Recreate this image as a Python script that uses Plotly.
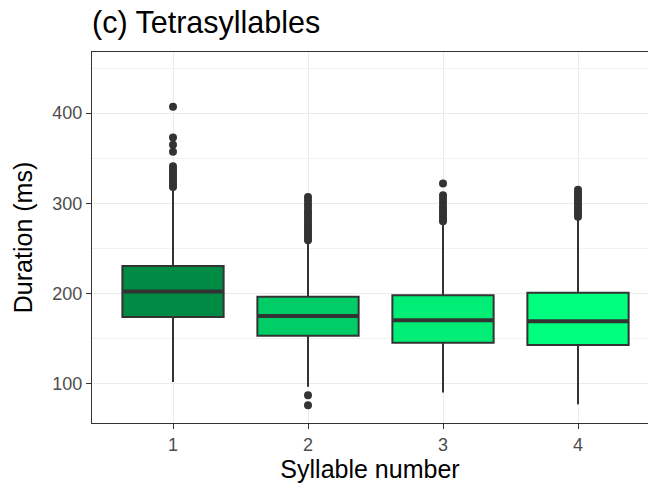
import plotly.graph_objects as go

# ---- data ----
syllables = [1, 2, 3, 4]
tick_labels = ["1", "2", "3", "4"]
q1 = [173.7, 152.9, 145.1, 142.6]
medians = [202.2, 174.8, 170.3, 169.2]
q3 = [230.3, 196.3, 198.0, 200.7]
lower_whisker = [101.8, 96.3, 90.0, 77.0]
upper_whisker = [315.0, 256.0, 276.0, 286.0]
outliers_1 = [407, 373, 365, 357, 341, 338, 335, 332, 329, 326, 323, 320, 318]
outliers_2 = [307, 303, 299, 295, 291, 288, 285, 282, 279, 276, 273, 270, 267, 264, 261, 259, 87, 76]
outliers_3 = [322, 309, 305, 301, 297, 294, 291, 288, 285, 282, 280]
outliers_4 = [315, 312, 309, 306, 303, 300, 297, 294, 291, 288, 285]
outliers = [outliers_1, outliers_2, outliers_3, outliers_4]
fill_colors = ["#008B45", "#00CD66", "#00EE76", "#00FF7F"]

box_width = 0.75
line_col = "#333333"
font_family = "Liberation Sans, Arial, sans-serif"

fig = go.Figure()
for i, s in enumerate(syllables):
    fig.add_trace(go.Box(
        x=[s], q1=[q1[i]], median=[medians[i]], q3=[q3[i]],
        lowerfence=[lower_whisker[i]], upperfence=[upper_whisker[i]],
        width=box_width, fillcolor=fill_colors[i],
        line=dict(color=line_col, width=2), whiskerwidth=0,
        boxpoints=False, showlegend=False, hoverinfo="skip"))
    # thicker median bar, as ggplot draws it
    fig.add_trace(go.Scatter(
        x=[s - box_width / 2, s + box_width / 2], y=[medians[i], medians[i]],
        mode="lines", line=dict(color=line_col, width=4),
        showlegend=False, hoverinfo="skip"))
    fig.add_trace(go.Scatter(
        x=[s] * len(outliers[i]), y=outliers[i], mode="markers",
        marker=dict(color=line_col, size=8),
        showlegend=False, hoverinfo="skip"))

fig.update_layout(
    width=648, height=487,
    margin=dict(l=92, r=0, t=52, b=64),
    paper_bgcolor="white", plot_bgcolor="white",
    font=dict(family=font_family),
    title=dict(text="(c) Tetrasyllables", x=92 / 648, xanchor="left",
               y=1 - 22 / 487, yanchor="middle",
               font=dict(size=30.5, color="black")),
    xaxis=dict(
        range=[0.4, 0.4 + (648 - 92) / 135], tickvals=syllables, ticktext=tick_labels,
        automargin=False,
        showgrid=True, gridcolor="#EBEBEB", gridwidth=1.3,
        showline=True, linecolor=line_col, linewidth=1.2, mirror=True,
        ticks="outside", ticklen=5, tickcolor=line_col, tickwidth=1.2,
        tickfont=dict(size=18, color="#4D4D4D"), zeroline=False,
        title=dict(text="Syllable number", font=dict(size=25, color="black"), standoff=6)),
    yaxis=dict(
        range=[56.2, 467.8], tickvals=[100, 200, 300, 400],
        automargin=False,
        showgrid=True, gridcolor="#EBEBEB", gridwidth=1.3,
        minor=dict(tickvals=[150, 250, 350, 450], showgrid=True, gridcolor="#F2F2F2", gridwidth=0.8, ticks=""),
        showline=True, linecolor=line_col, linewidth=1.2,
        ticks="outside", ticklen=5, tickcolor=line_col, tickwidth=1.2,
        tickfont=dict(size=18, color="#4D4D4D"), zeroline=False,
        title=dict(text="Duration (ms)", font=dict(size=25, color="black"), standoff=12)),
)

fig.write_html("out.html", config={"displayModeBar": False},
               post_script="document.body.style.margin='0';document.body.style.overflow='hidden';")
